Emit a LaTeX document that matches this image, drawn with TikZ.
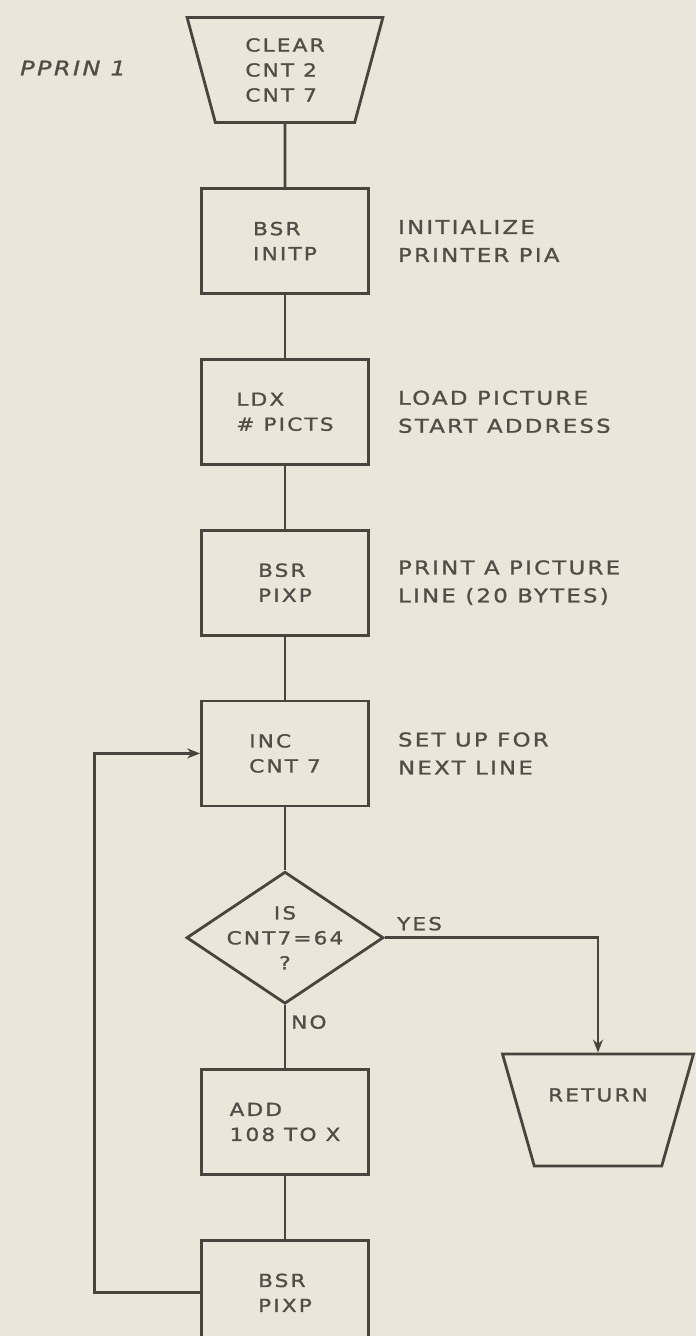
\documentclass[tikz,border=0pt]{standalone}
\usepackage{fontspec}
\usepackage{tikz}
\usetikzlibrary{arrows.meta,positioning,shapes.geometric}
\newfontfamily\leroy{DejaVu Sans}[FakeStretch=1.2,LetterSpace=12,FakeBold=1.2]
\definecolor{paper}{HTML}{EBE6DA}
\definecolor{ink}{HTML}{48443E}
\definecolor{pencil}{HTML}{514D47}

\begin{document}
\begin{tikzpicture}[x=1pt, y=-1pt,
  every node/.style={text=pencil, font=\leroy\fontsize{18}{25}\selectfont},
  op/.style={draw=ink, line width=2.8pt, minimum width=167pt,
    minimum height=105pt, align=left, inner sep=0pt},
  term/.style={draw=ink, line width=2.8pt, trapezium, trapezium stretches,
    shape border rotate=180, trapezium angle=76, align=left, inner sep=2pt},
  test/.style={draw=ink, line width=2.8pt, diamond, minimum width=197pt,
    minimum height=132pt, inner sep=2pt},
  note/.style={align=left, inner sep=0pt, font=\leroy\fontsize{19}{28}\selectfont},
  wire/.style={draw=ink, line width=2.8pt},
  arr/.style={wire, -{Stealth[length=13pt, width=10pt]}},
]
  \fill[paper] (0,0) rectangle (696,1336);
  \useasboundingbox (0,0) rectangle (696,1336);

  \node[anchor=west, inner sep=0pt,
    font=\leroy\itshape\fontsize{20}{24}\selectfont] (title) at (20,68) {PPRIN 1};

  \node[term, minimum width=196pt, minimum height=105pt] (clr) at (285,70)
    {CLEAR\\CNT 2\\CNT 7};
  \node[op] (initp) at (285,241) {BSR\\INITP};
  \node[op, below=63pt of initp] (picts) {LDX\\\# PICTS};
  \node[op, below=63pt of picts] (pixp) {BSR\\PIXP};
  \node[op, below=63pt of pixp] (inc) {INC\\CNT 7};
  \node[test, below=63pt of inc] (cnt) {};
  \node[align=center, inner sep=0pt] (cnttxt) at (cnt) {IS\\CNT7=64\\?};
  \node[op, below=63pt of cnt] (add) {ADD\\108 TO X};
  \node[op, below=63pt of add] (pixpb) {BSR\\PIXP};

  \node[term, minimum width=191pt, minimum height=112pt] (ret) at (598,1110) {};
  \node[inner sep=0pt] (rettxt) at ([yshift=15pt]ret.center) {RETURN};

  \node[note, right=28pt of initp] (n1) {INITIALIZE\\PRINTER PIA};
  \node[note, right=28pt of picts] (n2) {LOAD PICTURE\\START ADDRESS};
  \node[note, right=28pt of pixp] (n3) {PRINT A PICTURE\\LINE (20 BYTES)};
  \node[note, right=28pt of inc] (n4) {SET UP FOR\\NEXT LINE};

  \node[anchor=south west, inner sep=0pt] (yes) at ([xshift=12pt, yshift=7pt]cnt.east) {YES};
  \node[anchor=north west, inner sep=0pt] (no) at ([xshift=6pt, yshift=-10pt]cnt.south) {NO};

  \draw[wire] (clr) -- (initp);
  \draw[wire] (initp) -- (picts);
  \draw[wire] (picts) -- (pixp);
  \draw[wire] (pixp) -- (inc);
  \draw[wire] (inc) -- (cnt);
  \draw[wire] (cnt) -- (add);
  \draw[wire] (add) -- (pixpb);
  \draw[arr] (cnt.east) -| (ret);
  \draw[arr] (pixpb.west) -- ++(-106pt,0) |- (inc.west);
\end{tikzpicture}
\end{document}
